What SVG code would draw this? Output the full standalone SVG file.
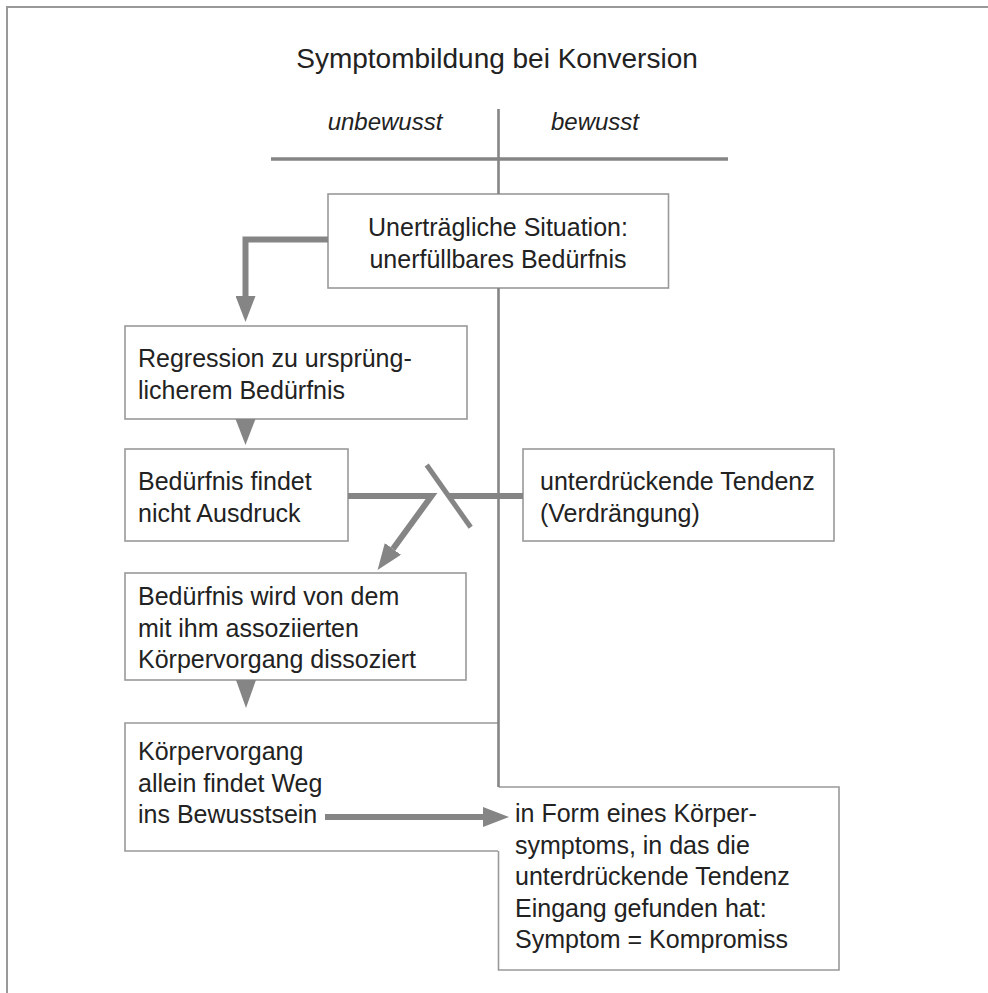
<svg xmlns="http://www.w3.org/2000/svg" width="988" height="993" viewBox="0 0 988 993">
<defs>
<style>
text{font-family:"Liberation Sans",Arial,sans-serif;fill:#222;}
.t{font-size:25px;}
.title{font-size:28px;}
.it{font-size:24px;font-style:italic;}
.box{fill:#fff;stroke:#999;stroke-width:1.6;}
.edge{fill:none;stroke:#999;stroke-width:1.6;}
.frame{fill:none;stroke:#999;stroke-width:2;}
.axis{fill:none;stroke:#858585;stroke-width:2.6;}
.arr{fill:none;stroke:#858585;stroke-width:6;}
.head{fill:#858585;stroke:none;}
</style>
<marker id="ah" markerUnits="userSpaceOnUse" markerWidth="26" markerHeight="20" refX="0" refY="10" orient="auto" viewBox="0 0 26 20">
<path d="M0,0 L26,10 L0,20 Z" fill="#858585"/>
</marker>
</defs>
<rect width="988" height="993" fill="#fff"/>
<g id="frame">
<path class="frame" d="M7,993 V7 H988"/>
</g>
<g id="header">
<text class="title" x="497" y="68" text-anchor="middle">Symptombildung bei Konversion</text>
<text class="it" x="385" y="130" text-anchor="middle">unbewusst</text>
<text class="it" x="595" y="130" text-anchor="middle">bewusst</text>
</g>
<g id="n1">
<rect class="box" x="328" y="194" width="340.5" height="94"/>
<text class="t" x="498" y="236" text-anchor="middle">Unerträgliche Situation:</text>
<text class="t" x="498" y="267.5" text-anchor="middle">unerfüllbares Bedürfnis</text>
</g>
<g id="n2">
<rect class="box" x="125" y="326" width="342" height="93"/>
<text class="t" x="138" y="366.5">Regression zu ursprüng-</text>
<text class="t" x="138" y="398.5">licherem Bedürfnis</text>
</g>
<g id="n3">
<rect class="box" x="125" y="449" width="223" height="92"/>
<text class="t" x="138" y="490">Bedürfnis findet</text>
<text class="t" x="138" y="521.5">nicht Ausdruck</text>
</g>
<g id="n4">
<rect class="box" x="523" y="449" width="311" height="92"/>
<text class="t" x="540" y="490">unterdrückende Tendenz</text>
<text class="t" x="540" y="521.5">(Verdrängung)</text>
</g>
<g id="n5">
<rect class="box" x="125" y="573" width="341" height="107"/>
<text class="t" x="138" y="605">Bedürfnis wird von dem</text>
<text class="t" x="138" y="636.5">mit ihm assoziierten</text>
<text class="t" x="138" y="668">Körpervorgang dissoziert</text>
</g>
<g id="n6">
<path class="edge" d="M498,723 H125 V851 H498"/>
<text class="t" x="138" y="760">Körpervorgang</text>
<text class="t" x="138" y="791.5">allein findet Weg</text>
<text class="t" x="138" y="823">ins Bewusstsein</text>
</g>
<g id="n7">
<path class="edge" d="M498.5,787 H839 V970 H498.5 V851"/>
<text class="t" x="515" y="822">in Form eines Körper-</text>
<text class="t" x="515" y="853.5">symptoms, in das die</text>
<text class="t" x="515" y="885">unterdrückende Tendenz</text>
<text class="t" x="515" y="916.5">Eingang gefunden hat:</text>
<text class="t" x="515" y="948">Symptom = Kompromiss</text>
</g>
<g id="connectors">
<path class="axis" d="M498.5,109 V194"/>
<path d="M271,159 H728" fill="none" stroke="#858585" stroke-width="3.5"/>
<path class="axis" d="M498.5,288 V787"/>
<path class="arr" d="M328,239.5 H245.5 V296" marker-end="url(#ah)"/>
<polygon class="head" points="235.5,419 255.5,419 245.5,445"/>
<path class="arr" d="M348,496 H431.5 L392.9,548.9" marker-end="url(#ah)"/>
<path class="arr" d="M449,496 H523"/>
<path d="M426.7,465 L470.7,527.3" fill="none" stroke="#858585" stroke-width="5"/>
<polygon class="head" points="236,680 256,680 246,708"/>
<path class="arr" d="M325,817 H483" marker-end="url(#ah)"/>
</g>
</svg>
